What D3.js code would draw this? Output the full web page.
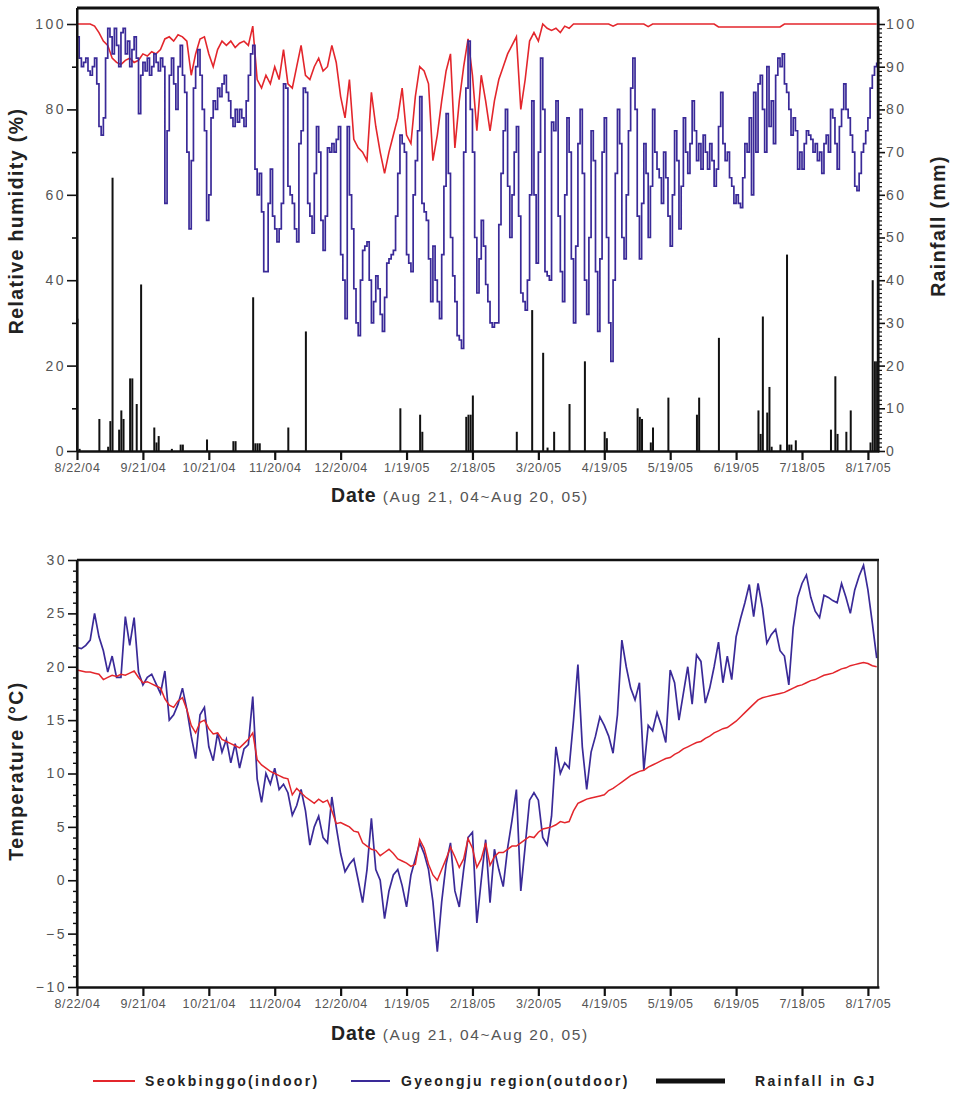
<!DOCTYPE html>
<html><head><meta charset="utf-8">
<script src="https://cdn.jsdelivr.net/npm/d3@7"></script>
<style>
body{margin:0;background:#fff}
svg{display:block}
text{font-family:Arial,"Liberation Sans",sans-serif}
</style>
</head><body>
<svg id="c" width="953" height="1093"></svg>
<script>
// ---------------- DATA ----------------
const startDate = "2004-08-22";
const tickDates = ["2004-08-22","2004-09-21","2004-10-21","2004-11-20","2004-12-20","2005-01-19","2005-02-18","2005-03-20","2005-04-19","2005-05-19","2005-06-18","2005-07-18","2005-08-17"];
const tickLabels = ["8/22/04","9/21/04","10/21/04","11/20/04","12/20/04","1/19/05","2/18/05","3/20/05","4/19/05","5/19/05","6/19/05","7/18/05","8/17/05"];
const rhTicks = [0,20,40,60,80,100];
const rainTicks = [0,10,20,30,40,50,60,70,80,90,100];
const tempTicks = [-10,-5,0,5,10,15,20,25,30];
const seriesNames = ["Seokbinggo(indoor)","Gyeongju region(outdoor)","Rainfall in GJ"];

// Outdoor relative humidity (%), daily from 8/22/04
const rhOutdoor = [
97,92,90,91,92,89,88,90,92,86, 76,74,78,92,99,97,93,99,95,90,
98,99,93,96,90,94,97,92,79,88, 91,89,92,88,90,93,91,89,92,90,
58,75,88,92,86,80,90,95,88,84, 70,52,68,85,90,94,88,80,75,54,
60,78,82,80,85,83,86,88,84,82, 78,76,80,77,80,78,76,82,88,93,
95,66,60,65,56,42,42,58,66,55, 52,49,52,58,86,85,62,60,58,52,
49,72,75,85,84,58,55,51,65,76, 70,54,47,55,71,70,72,70,73,76,
46,40,31,76,60,52,38,30,27,40, 47,48,49,40,30,35,41,38,32,28,
36,44,45,46,47,55,65,74,72,70, 46,44,42,60,68,75,83,58,56,54,
45,35,48,40,35,31,46,62,79,65, 50,41,35,27,26,24,70,85,96,80,
70,50,37,45,54,48,39,35,30,29, 30,30,53,65,75,80,62,50,60,70,
76,55,37,35,33,40,60,82,60,44, 70,92,80,42,41,40,77,75,82,55,
42,35,60,78,70,45,30,48,72,80, 65,40,32,50,75,68,42,28,45,70,
78,50,30,21,40,65,80,72,50,45, 60,75,85,92,80,55,45,58,72,65,
50,62,80,70,66,64,58,70,64,55, 48,60,75,68,52,62,78,70,65,72,
82,75,68,72,66,74,70,66,72,68, 62,66,76,84,72,68,70,64,62,58,
60,58,57,64,72,70,78,60,84,70, 86,88,80,70,90,76,82,72,88,92,
90,93,86,84,80,74,78,75,66,70, 66,72,75,74,73,70,72,68,70,65,
72,74,70,80,78,72,66,76,80,86, 80,78,74,70,62,61,65,70,72,75,
78,85,88,90,91];

// Indoor relative humidity (%), every 2 days from 8/22/04
const rhIndoor = [
100,100,100,100,99.5,98,96,95,92,91, 90.5,91.5,92,91,91.5,93,92.5,93.5,93,94,
96.5,97,96,97.5,97,96,88,93,96.5,97, 93,90,94,96,95,96,94.5,95.5,96,95,
99.5,87,85,88,86,90,87,94,86,85, 90,95,88,87,90,92,89,90,95,91,
83,78,87,73,71,70,68,84,76,70, 65,70,74,78,85,74,72,83,90,89,
86,68,74,82,89,93,71,82,90,96.5, 88,75,88,82,75,82,87,90,93,95,
97,80,87,96,98,96,100,99,98.5,99, 98,99.5,99,100,100,100,100,100,100,100,
100,100,99.5,100,100,100,100,100,100,100, 99.4,100,100,100,100,100,100,100,100,100,
100,100,100,100,100,100,99.3,99.3,99.3,99.3, 99.3,99.3,99.3,99.3,99.3,99.3,99.3,99.3,99.3,99.3,
99.3,100,100,100,100,100,100,100,100,100, 100,100,100,100,100,100,100,100,100,100,
100,100,100];

// Rainfall in Gyeongju: day offset from 8/22/04 and amount (mm)
const rainDay = [0,1,10,14,15,16,19,20,21,24,25,27,29,35,36,37,43,47,48,59,71,72,80,81,82,83,96,104,
147,156,157,177,178,179,180,200,207,212,214,217,224,231,240,241,255,256,257,261,262,269,282,283,292,
310,311,312,314,315,316,320,323,324,325,327,343,345,346,350,352,361,362,363,364];
const rainMM = [31,0.5,7.5,1,7,64,5,9.5,7.5,17,17,11,39,5.5,2,3.5,0.5,1.5,1.5,2.7,2.3,2.3,36,1.8,1.8,1.8,5.5,28,
10,8.5,4.5,8,8.5,8.5,13,4.5,33,23,0.8,4.5,11,21,4.5,3,10,8,7.5,2,5.5,12.5,8.5,12.5,26.5,
9.5,4,31.5,9,15,1,1.5,46,1.5,1.5,2.5,5,17.5,4,4.5,9.5,2,40,21,21];

// Outdoor temperature (°C), every 2 days from 8/22/04
const tOutdoor = [
21.8,21.7,22,22.5,25,22.8,21.5,19.5,21,19, 19,24.7,22,24.6,19.5,18.3,19,19.3,18.4,17.5,
19.6,15,15.5,16.5,18,16,13.5,11.4,15.5,16.2, 12.5,11.2,13.8,12,13.2,11,12.8,10.5,12.3,12.7,
17.2,9.5,7.3,10,9,10.5,8.5,9,8.2,6.1, 7,8.5,6.5,3.3,5,6,4,3.5,7.8,5,
2.5,0.8,1.5,2,0,-2.1,1,5.8,1,0, -3.6,-1,0.5,1,-0.5,-2.5,0.5,2,3.5,2.5,
1,-2,-6.7,-2,1.5,3.5,-1,-2.5,1,4, 4.5,-4,0,3.8,-2.1,2.9,1,-0.6,3,5.6,
8.5,-1,3.2,7.5,8.2,7.5,4,3.3,6,12.5, 10,11,10.5,15,20.2,12.5,8.5,12,13.5,15.3,
14.5,13.5,11.9,15.5,22.5,20,18,16.9,18.5,10.3, 14.5,14,15.7,14.5,12.9,19.7,18.5,15,17.5,20,
16.5,21.1,20.5,16.6,18,20,22.3,18.5,21,18.8, 22.8,24.5,26,27.7,24.7,27.8,25.5,22.2,23,23.5,
21.5,21,18.3,23.7,26.5,27.8,28.6,26.5,25.2,24.6, 26.7,26.5,26.2,26,27.8,26.5,25,27.2,28.5,29.5,
27.2,24.1,20.8];

// Indoor temperature (°C), every 2 days from 8/22/04
const tIndoor = [
19.7,19.6,19.5,19.5,19.4,19.3,18.8,19.0,19.2,19.1, 19.3,19.2,19.4,19.6,19.0,18.5,18.6,18.4,18.2,18.0,
17.0,16.4,16.2,16.8,17.1,16.0,14.5,13.8,14.8,15.0, 14.2,13.7,13.8,13.2,13.0,12.8,12.6,12.4,12.8,13.2,
13.8,11.3,10.8,10.5,10.2,10.0,9.8,9.6,9.5,8.0, 8.6,8.2,7.8,7.5,7.2,7.6,7.3,7.5,6.5,5.3,
5.4,5.2,5.0,4.6,4.5,3.5,3.2,2.9,2.8,2.3, 2.6,2.9,2.5,2.0,1.8,1.6,1.3,1.5,3.8,3.0,
1.5,0.5,0.0,1.0,2.0,3.1,2.2,1.2,2.0,3.9, 3.0,1.2,2.0,3.5,1.4,2.2,2.6,2.6,2.9,3.2,
3.2,3.5,3.8,4.1,4.0,4.5,4.8,4.9,5.0,5.2, 5.5,5.4,5.5,6.5,7.2,7.4,7.6,7.7,7.8,7.9,
8.0,8.4,8.6,8.9,9.2,9.5,9.8,10.0,10.2,10.3, 10.6,10.8,11.0,11.2,11.4,11.5,11.8,12.0,12.3,12.5,
12.7,12.9,13.0,13.3,13.5,13.8,14.0,14.2,14.3,14.6, 14.9,15.3,15.7,16.1,16.5,16.9,17.1,17.2,17.3,17.4,
17.5,17.6,17.8,18.0,18.2,18.3,18.5,18.7,18.8,19.0, 19.2,19.3,19.4,19.6,19.8,19.9,20.1,20.2,20.3,20.4,
20.3,20.1,20.0];

// ---------------- DRAW ----------------
const RED = "#e3262c", BLUE = "#3a2a98";
const svg = d3.select("#c");
const t0 = new Date(startDate + "T00:00:00Z");
const dayDate = d => new Date(t0.getTime() + d * 864e5);
const x = d3.scaleUtc().domain([t0, dayDate(365)]).range([77, 878.9]);
const tickD = tickDates.map(s => new Date(s + "T00:00:00Z"));

function styleAxis(g, fs, ls, col) {
  g.selectAll("text").attr("font-size", fs).attr("letter-spacing", ls).attr("fill", col || "#555");
  g.selectAll("line").attr("stroke", "#111").attr("stroke-width", 1.6);
  g.select(".domain").attr("stroke", "#111").attr("stroke-width", 2);
}
function xAxisAt(y0) {
  const g = svg.append("g").attr("transform", `translate(0,${y0})`)
    .call(d3.axisBottom(x).tickValues(tickD).tickFormat((d, i) => tickLabels[i]).tickSize(9).tickSizeOuter(0).tickPadding(3));
  styleAxis(g, 12.5, 0.6);
  g.selectAll("line").attr("stroke-width", 2.2);
  g.select(".domain").attr("stroke-width", 2.4);
}

// ---- Top chart: humidity + rainfall ----
const yH = d3.scaleLinear().domain([0, 103.75]).range([451, 8]);

// rainfall bars
svg.append("g").selectAll("rect").data(rainDay).join("rect")
  .attr("x", (d) => x(dayDate(d)) - 0.6)
  .attr("width", (d) => Math.max(1.6, x(dayDate(d + 1)) - x(dayDate(d)) - 0.2))
  .attr("y", (d, i) => yH(rainMM[i]))
  .attr("height", (d, i) => yH(0) - yH(rainMM[i]))
  .attr("fill", "#111");

const lineIn = d3.line().x((v, i) => x(dayDate(2 * i))).y(v => yH(v));
svg.append("path").datum(rhIndoor).attr("d", lineIn).attr("fill", "none").attr("stroke", RED).attr("stroke-width", 1.6);
const lineOut = d3.line().x((v, i) => x(dayDate(i))).y(v => yH(v)).curve(d3.curveStepAfter);
svg.append("path").datum(rhOutdoor).attr("d", lineOut).attr("fill", "none").attr("stroke", BLUE).attr("stroke-width", 1.7);

// left axis
let g = svg.append("g").attr("transform", "translate(77,0)")
  .call(d3.axisLeft(yH).tickValues(rhTicks).tickSize(10).tickSizeOuter(0).tickPadding(1));
styleAxis(g, 14, 2.5);
g = svg.append("g").attr("transform", "translate(77,0)")
  .call(d3.axisLeft(yH).tickValues([10, 30, 50, 70, 90]).tickSize(5).tickFormat(""));
styleAxis(g, 14, 0); g.select(".domain").remove();
svg.append("line").attr("x1", 77).attr("x2", 77).attr("y1", 8).attr("y2", 451).attr("stroke", "#111").attr("stroke-width", 2);

// right axis
g = svg.append("g").attr("transform", "translate(878,0)")
  .call(d3.axisRight(yH).tickValues(rainTicks).tickSize(7).tickSizeOuter(0).tickPadding(1));
styleAxis(g, 14, 2.5);
g = svg.append("g").attr("transform", "translate(878,0)")
  .call(d3.axisRight(yH).tickValues(d3.range(1, 100).filter(v => v % 10 !== 0)).tickSize(4).tickFormat(""));
styleAxis(g, 14, 0); g.select(".domain").remove();
g.selectAll("line").attr("stroke-width", 1.2);
svg.append("line").attr("x1", 878).attr("x2", 878).attr("y1", 8).attr("y2", 451).attr("stroke", "#111").attr("stroke-width", 2.4);

// top border
svg.append("line").attr("x1", 77).attr("x2", 879).attr("y1", 8).attr("y2", 8).attr("stroke", "#111").attr("stroke-width", 3);
xAxisAt(451);

// titles
svg.append("text").attr("transform", "translate(23,221) rotate(-90)").attr("text-anchor", "middle")
  .attr("font-size", 19.5).attr("font-weight", "bold").attr("letter-spacing", 1.4).attr("fill", "#222").text("Relative humidity (%)");
svg.append("text").attr("transform", "translate(945,226) rotate(-90)").attr("text-anchor", "middle")
  .attr("font-size", 19.5).attr("font-weight", "bold").attr("letter-spacing", 1.4).attr("fill", "#222").text("Rainfall (mm)");

function dateTitle(yb) {
  const t = svg.append("text").attr("x", 331).attr("y", yb).attr("fill", "#222");
  t.append("tspan").attr("font-size", 19.5).attr("font-weight", "bold").attr("letter-spacing", 0.8).text("Date ");
  t.append("tspan").attr("font-size", 15.5).attr("letter-spacing", 1.6).attr("fill", "#555").text("(Aug 21, 04~Aug 20, 05)");
}
dateTitle(502);

// ---- Bottom chart: temperature ----
const yT = d3.scaleLinear().domain([-10, 30]).range([987, 560]);
const lineTO = d3.line().x((v, i) => x(dayDate(2 * i))).y(v => yT(v));
svg.append("path").datum(tOutdoor).attr("d", lineTO).attr("fill", "none").attr("stroke", BLUE).attr("stroke-width", 1.7);
svg.append("path").datum(tIndoor).attr("d", lineTO).attr("fill", "none").attr("stroke", RED).attr("stroke-width", 1.5);

g = svg.append("g").attr("transform", "translate(77,0)")
  .call(d3.axisLeft(yT).tickValues(tempTicks).tickSize(9).tickSizeOuter(0).tickPadding(1));
styleAxis(g, 14, 2.5);
g = svg.append("g").attr("transform", "translate(77,0)")
  .call(d3.axisLeft(yT).tickValues(d3.range(-9, 30).filter(v => v % 5 !== 0)).tickSize(4).tickFormat(""));
styleAxis(g, 14, 0); g.select(".domain").remove();
g.selectAll("line").attr("stroke-width", 1.4);
svg.append("line").attr("x1", 77).attr("x2", 77).attr("y1", 560).attr("y2", 987).attr("stroke", "#111").attr("stroke-width", 2.2);
svg.append("line").attr("x1", 77).attr("x2", 879).attr("y1", 560).attr("y2", 560).attr("stroke", "#111").attr("stroke-width", 2.6);
svg.append("line").attr("x1", 878).attr("x2", 878).attr("y1", 560).attr("y2", 987).attr("stroke", "#222").attr("stroke-width", 1.6);
xAxisAt(987);

svg.append("text").attr("transform", "translate(23,771) rotate(-90)").attr("text-anchor", "middle")
  .attr("font-size", 19.5).attr("font-weight", "bold").attr("letter-spacing", 1.4).attr("fill", "#222").text("Temperature (\u00B0C)");
dateTitle(1040);

// ---- Legend ----
const legY = 1081;
const leg = [
  {x1: 93, x2: 135, tx: 145, col: RED, w: 2},
  {x1: 351, x2: 390, tx: 401, col: BLUE, w: 2},
  {x1: 656, x2: 725, tx: 755, col: "#111", w: 5}
];
leg.forEach((l, i) => {
  svg.append("line").attr("x1", l.x1).attr("x2", l.x2).attr("y1", legY).attr("y2", legY).attr("stroke", l.col).attr("stroke-width", l.w);
  svg.append("text").attr("x", l.tx).attr("y", legY + 5).attr("font-size", 14).attr("font-weight", "bold")
    .attr("letter-spacing", 2.3).attr("fill", "#222").text(seriesNames[i]);
});
</script>
</body></html>
